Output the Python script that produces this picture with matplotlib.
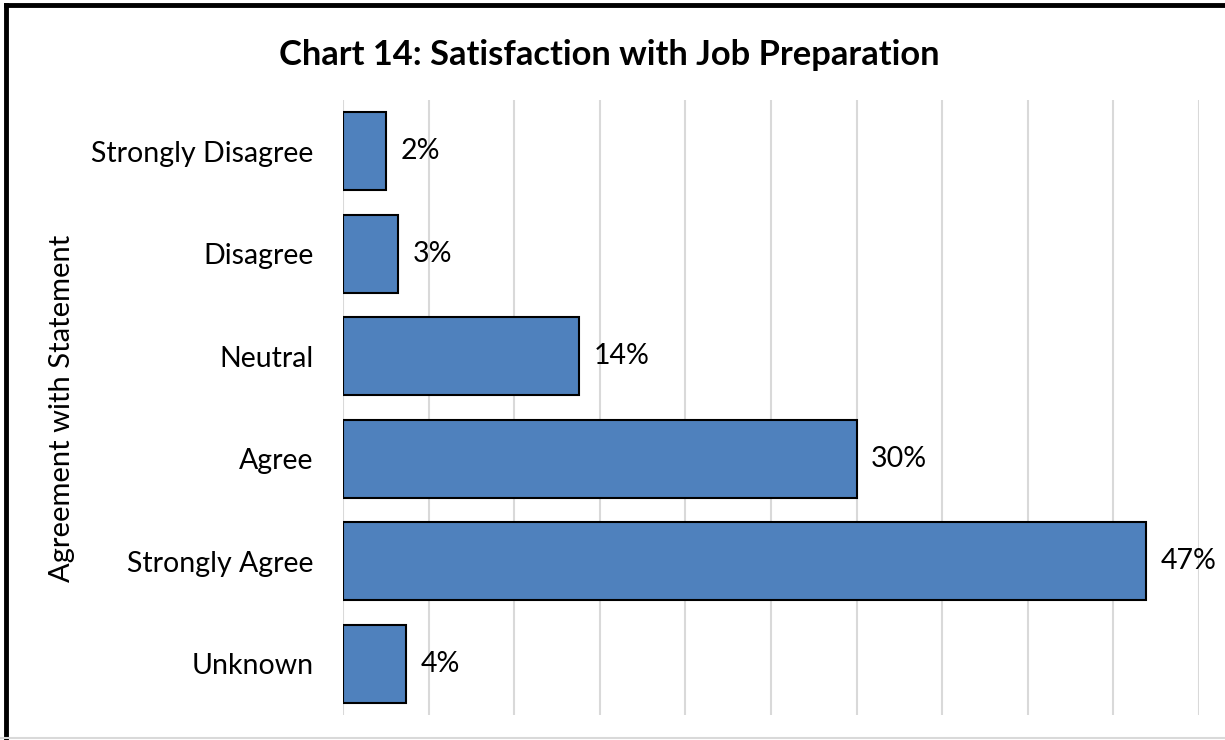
import matplotlib.pyplot as plt
import numpy as np

categories = ['Strongly Disagree', 'Disagree', 'Neutral', 'Agree', 'Strongly Agree', 'Unknown']
values = [2.5, 3.2, 13.8, 30.0, 46.9, 3.7]
labels = ['2%', '3%', '14%', '30%', '47%', '4%']

plt.rcParams['font.family'] = ['Lato', 'DejaVu Sans']

fig = plt.figure(figsize=(12.25, 7.40), dpi=100)
ax = fig.add_axes([343/1225, 25/740, (1199-343)/1225, 615/740])

y = np.arange(len(categories))
ax.barh(y, values, height=0.76, color='#4F81BD', edgecolor='black', linewidth=1.5, zorder=3)

for yi, v, lab in zip(y, values, labels):
    ax.text(v + 0.85, yi, lab, va='center', ha='left', fontsize=20.5)

ax.set_xlim(0, 50)
ax.set_ylim(len(categories) - 0.5, -0.5)
ax.set_xticks(np.arange(0, 51, 5))
ax.set_xticklabels([])
ax.tick_params(axis='x', length=0)
ax.tick_params(axis='y', length=0, labelsize=20.5, pad=21)
ax.set_yticks(y)
ax.set_yticklabels(categories)
ax.grid(axis='x', color='#D9D9D9', linewidth=1.5, zorder=0)
for s in ax.spines.values():
    s.set_visible(False)

fig.text(609/1225, 1 - 55/740, 'Chart 14: Satisfaction with Job Preparation',
         ha='center', va='center', fontsize=24.8, fontweight='bold')
fig.text(62/1225, 1 - 408/740, 'Agreement with Statement', rotation=90,
         ha='center', va='center', fontsize=21)

# outer frame: black left/top, light bottom
fig.add_artist(plt.Line2D([6/1225, 6/1225], [0, 1 - 5/740], color='black', linewidth=3.5, transform=fig.transFigure))
fig.add_artist(plt.Line2D([6/1225, 1], [1 - 5/740, 1 - 5/740], color='black', linewidth=3.5, transform=fig.transFigure))
fig.add_artist(plt.Line2D([0, 1], [2/740, 2/740], color='#D9D9D9', linewidth=1.5, transform=fig.transFigure))

fig.savefig('out.png', dpi=100)
